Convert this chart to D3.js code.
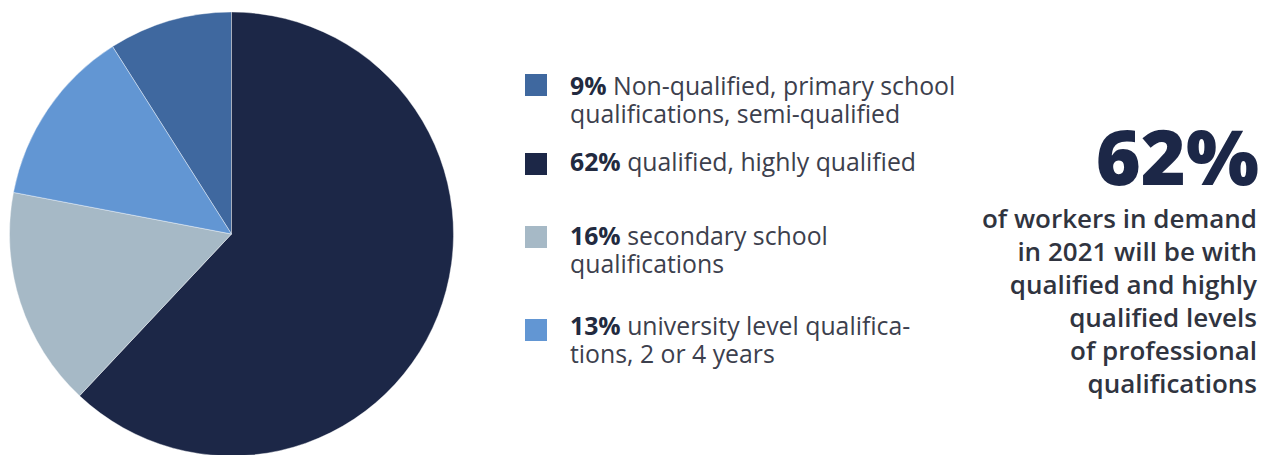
<!DOCTYPE html>
<html>
<head>
<meta charset="utf-8">
<script src="https://cdn.jsdelivr.net/npm/d3@7"></script>
<style>
  html, body { margin: 0; padding: 0; background: #ffffff; }
  svg { display: block; }
</style>
</head>
<body>
<svg id="chart" width="1277" height="455"></svg>
<script>
// Shares of workers in demand by qualification level
const shares = [9, 62, 16, 13];
const percentLabels = ["9%", "62%", "16%", "13%"];
const descriptions = [
  ["Non-qualified, primary school", "qualifications, semi-qualified"],
  ["qualified, highly qualified"],
  ["secondary school", "qualifications"],
  ["university level qualifica-", "tions, 2 or 4 years"]
];
const colors = ["#3f689f", "#1c2747", "#a6b9c6", "#6296d3"];

const headline = "62%";
const noteLines = [
  "of workers in demand",
  "in 2021 will be with",
  "qualified and highly",
  "qualified levels",
  "of professional",
  "qualifications"
];

const svg = d3.select("#chart");

// ---- Pie ----
const cx = 231.5, cy = 234, radius = 222;
const total = d3.sum(shares);
const start = -(shares[0] / total) * 2 * Math.PI;

const pie = d3.pie()
  .sort(null)
  .value(d => d)
  .startAngle(start)
  .endAngle(start + 2 * Math.PI);

const arc = d3.arc().innerRadius(0).outerRadius(radius);

svg.append("g")
  .attr("transform", `translate(${cx},${cy})`)
  .selectAll("path")
  .data(pie(shares))
  .join("path")
  .attr("d", arc)
  .attr("fill", (d, i) => colors[i])
  .attr("stroke", "#ffffff")
  .attr("stroke-width", 0.4);

// ---- Legend ----
const legendX = 525, textX = 570;
const baselines = [95, 171, 245, 335];
const squareTops = [74, 153, 226, 319];
const lineGap = 28;
const sq = 22;

const legend = svg.append("g")
  .style("font-family", "'Open Sans', sans-serif")
  .style("font-size", "24.8px");

shares.forEach((v, i) => {
  legend.append("rect")
    .attr("x", legendX)
    .attr("y", squareTops[i])
    .attr("width", sq)
    .attr("height", sq)
    .attr("fill", colors[i]);

  descriptions[i].forEach((line, j) => {
    const t = legend.append("text")
      .attr("x", textX)
      .attr("y", baselines[i] + j * lineGap)
      .attr("fill", "#3c404d");
    if (j === 0) {
      t.append("tspan")
        .attr("font-weight", 700)
        .attr("fill", "#222a40")
        .text(percentLabels[i]);
      t.append("tspan").text(" " + line);
    } else {
      t.text(line);
    }
  });
});

// ---- Headline note ----
const rightX = 1257;
svg.append("text")
  .attr("x", rightX + 2)
  .attr("y", 185)
  .attr("text-anchor", "end")
  .style("font-family", "'Open Sans', sans-serif")
  .style("font-weight", 800)
  .style("font-size", "77px")
  .attr("fill", "#1c2747")
  .text(headline);

svg.append("g")
  .selectAll("text")
  .data(noteLines)
  .join("text")
  .attr("x", rightX)
  .attr("y", (d, i) => 228 + i * 33)
  .attr("text-anchor", "end")
  .style("font-family", "'Open Sans', sans-serif")
  .style("font-weight", 600)
  .style("font-size", "26px")
  .attr("fill", "#30343f")
  .text(d => d);
</script>
</body>
</html>
